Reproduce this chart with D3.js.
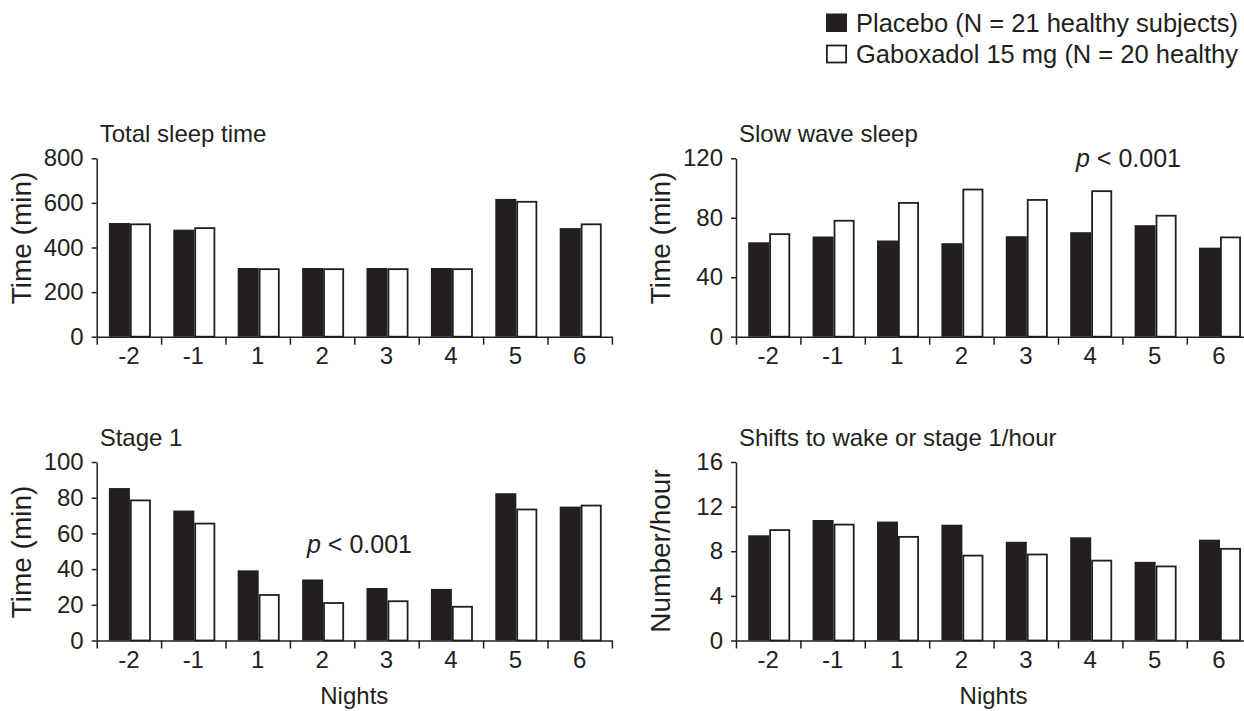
<!DOCTYPE html>
<html lang="en">
<head>
  <meta charset="UTF-8">
  <title>Sleep parameters by night</title>
  <script src="https://d3js.org/d3.v7.min.js"></script>
  <style>
    body { margin: 0; background: #fff; }
    svg { display: block; font-family: "Liberation Sans", Arial, sans-serif; }
    text { fill: #231f20; }
    .axis path, .axis line { stroke: #231f20; stroke-width: 1.5; fill: none; }
    .axis text { font-size: 24px; }
    .placebo { fill: #231f20; }
    .gabox { fill: #fff; stroke: #231f20; stroke-width: 1.8; }
  </style>
</head>
<body>
  <svg width="1244" height="711"></svg>

  <script>
    const nights = ['-2', '-1', '1', '2', '3', '4', '5', '6'];
    // the second legend entry is cut short at the right edge in the original figure
    const seriesNames = ['Placebo (N = 21 healthy subjects)', 'Gaboxadol 15 mg (N = 20 healthy'];

    const totalPlacebo = [510, 480, 308, 308, 308, 308, 618, 487];
    const totalGabox = [508, 491, 307, 307, 307, 307, 609, 508];
    const swsPlacebo = [63.5, 67.4, 64.7, 62.9, 67.6, 70.3, 75, 59.9];
    const swsGabox = [69.6, 78.6, 90.6, 99.6, 92.6, 98.5, 82, 67.4];
    const stage1Placebo = [85.4, 72.8, 39.3, 34.2, 29.4, 28.9, 82.5, 75];
    const stage1Gabox = [79, 66, 26, 21.5, 22.5, 19.4, 73.9, 76.1];
    const shiftsPlacebo = [9.43, 10.8, 10.66, 10.38, 8.85, 9.25, 7.05, 9.04];
    const shiftsGabox = [9.98, 10.47, 9.37, 7.69, 7.79, 7.24, 6.72, 8.3];

    const totalTicks = [0, 200, 400, 600, 800];
    const swsTicks = [0, 40, 80, 120];
    const stage1Ticks = [0, 20, 40, 60, 80, 100];
    const shiftsTicks = [0, 4, 8, 12, 16];

    const panels = [
      { title: 'Total sleep time', yLabel: 'Time (min)', p: totalPlacebo, g: totalGabox, ticks: totalTicks,
        left: 96.7, top: 158.3, bottom: 336.7, yLabelY: 238, note: null },
      { title: 'Slow wave sleep', yLabel: 'Time (min)', p: swsPlacebo, g: swsGabox, ticks: swsTicks,
        left: 736, top: 158.3, bottom: 336.7, yLabelY: 238, note: { x: 1076, y: 167 } },
      { title: 'Stage 1', yLabel: 'Time (min)', p: stage1Placebo, g: stage1Gabox, ticks: stage1Ticks,
        left: 96.7, top: 462, bottom: 640.5, yLabelY: 552, note: { x: 307, y: 553 }, nights: true },
      { title: 'Shifts to wake or stage 1/hour', yLabel: 'Number/hour', p: shiftsPlacebo, g: shiftsGabox, ticks: shiftsTicks,
        left: 736, top: 462, bottom: 640.5, yLabelY: 551, note: null, nights: true }
    ];

    const svg = d3.select('svg');
    const step = 64.4;
    const barW = 21;

    panels.forEach(pn => {
      const g = svg.append('g');
      const right = pn.left + step * nights.length;

      const x = d3.scaleBand().domain(nights).range([pn.left, right]).padding(0);
      const xEdge = d3.scaleLinear().domain([0, nights.length]).range([pn.left, right]);
      const inner = d3.scaleBand().domain(['p', 'g']).range([0, barW * 2]);
      const off = (step - barW * 2) / 2 + 1;

      const y = d3.scaleLinear()
        .domain([0, d3.max(pn.ticks)])
        .range([pn.bottom, pn.top]);

      const rows = nights.map((n, i) => ({ night: n, p: pn.p[i], g: pn.g[i] }));

      // bars
      g.selectAll('.placebo')
        .data(rows)
        .enter()
        .append('rect')
        .attr('class', 'placebo')
        .attr('x', d => x(d.night) + off + inner('p'))
        .attr('width', inner.bandwidth())
        .attr('y', d => y(d.p))
        .attr('height', d => y(0) - y(d.p));

      g.selectAll('.gabox')
        .data(rows)
        .enter()
        .append('rect')
        .attr('class', 'gabox')
        .attr('x', d => x(d.night) + off + inner('g') + 0.9)
        .attr('width', inner.bandwidth() - 1.8)
        .attr('y', d => y(d.g) + 0.9)
        .attr('height', d => y(0) - y(d.g) - 0.9);

      // x axis: boundary ticks + centred labels
      g.append('g')
        .attr('class', 'axis')
        .attr('transform', `translate(0, ${pn.bottom})`)
        .call(d3.axisBottom(xEdge).tickValues(d3.range(nights.length + 1)).tickFormat('').tickSize(8).tickSizeOuter(0));

      g.append('g')
        .attr('class', 'axis')
        .attr('transform', `translate(0, ${pn.bottom})`)
        .call(d3.axisBottom(x).tickSize(0).tickPadding(10))
        .call(a => a.select('.domain').remove());

      // y axis
      g.append('g')
        .attr('class', 'axis')
        .attr('transform', `translate(${pn.left}, 0)`)
        .call(d3.axisLeft(y).tickValues(pn.ticks).tickSize(5).tickSizeOuter(0).tickPadding(8));

      g.append('text')
        .attr('x', pn.left + 3)
        .attr('y', pn.top - 16)
        .style('font-size', '24px')
        .text(pn.title);

      g.append('text')
        .attr('transform', `translate(${pn.left - 66}, ${pn.yLabelY}) rotate(-90)`)
        .attr('text-anchor', 'middle')
        .style('font-size', '28px')
        .text(pn.yLabel);

      if (pn.note) {
        const t = g.append('text')
          .attr('x', pn.note.x)
          .attr('y', pn.note.y)
          .style('font-size', '25px');
        t.append('tspan').style('font-style', 'italic').text('p');
        t.append('tspan').text(' < 0.001');
      }

      if (pn.nights) {
        g.append('text')
          .attr('x', (pn.left + right) / 2)
          .attr('y', 704)
          .attr('text-anchor', 'middle')
          .style('font-size', '24px')
          .text('Nights');
      }
    });

    // legend
    const legend = svg.append('g').attr('transform', 'translate(826, 0)');
    legend.append('rect')
      .attr('x', 0).attr('y', 13.5).attr('width', 21).attr('height', 18.5)
      .attr('class', 'placebo');
    legend.append('rect')
      .attr('x', 0.9).attr('y', 45.5).attr('width', 19.2).attr('height', 17)
      .attr('class', 'gabox');
    legend.selectAll('.leg-text')
      .data(seriesNames)
      .enter()
      .append('text')
      .attr('class', 'leg-text')
      .attr('x', 30)
      .attr('y', (d, i) => 32 + i * 31)
      .style('font-size', '25.5px')
      .text(d => d);
  </script>
</body>
</html>
